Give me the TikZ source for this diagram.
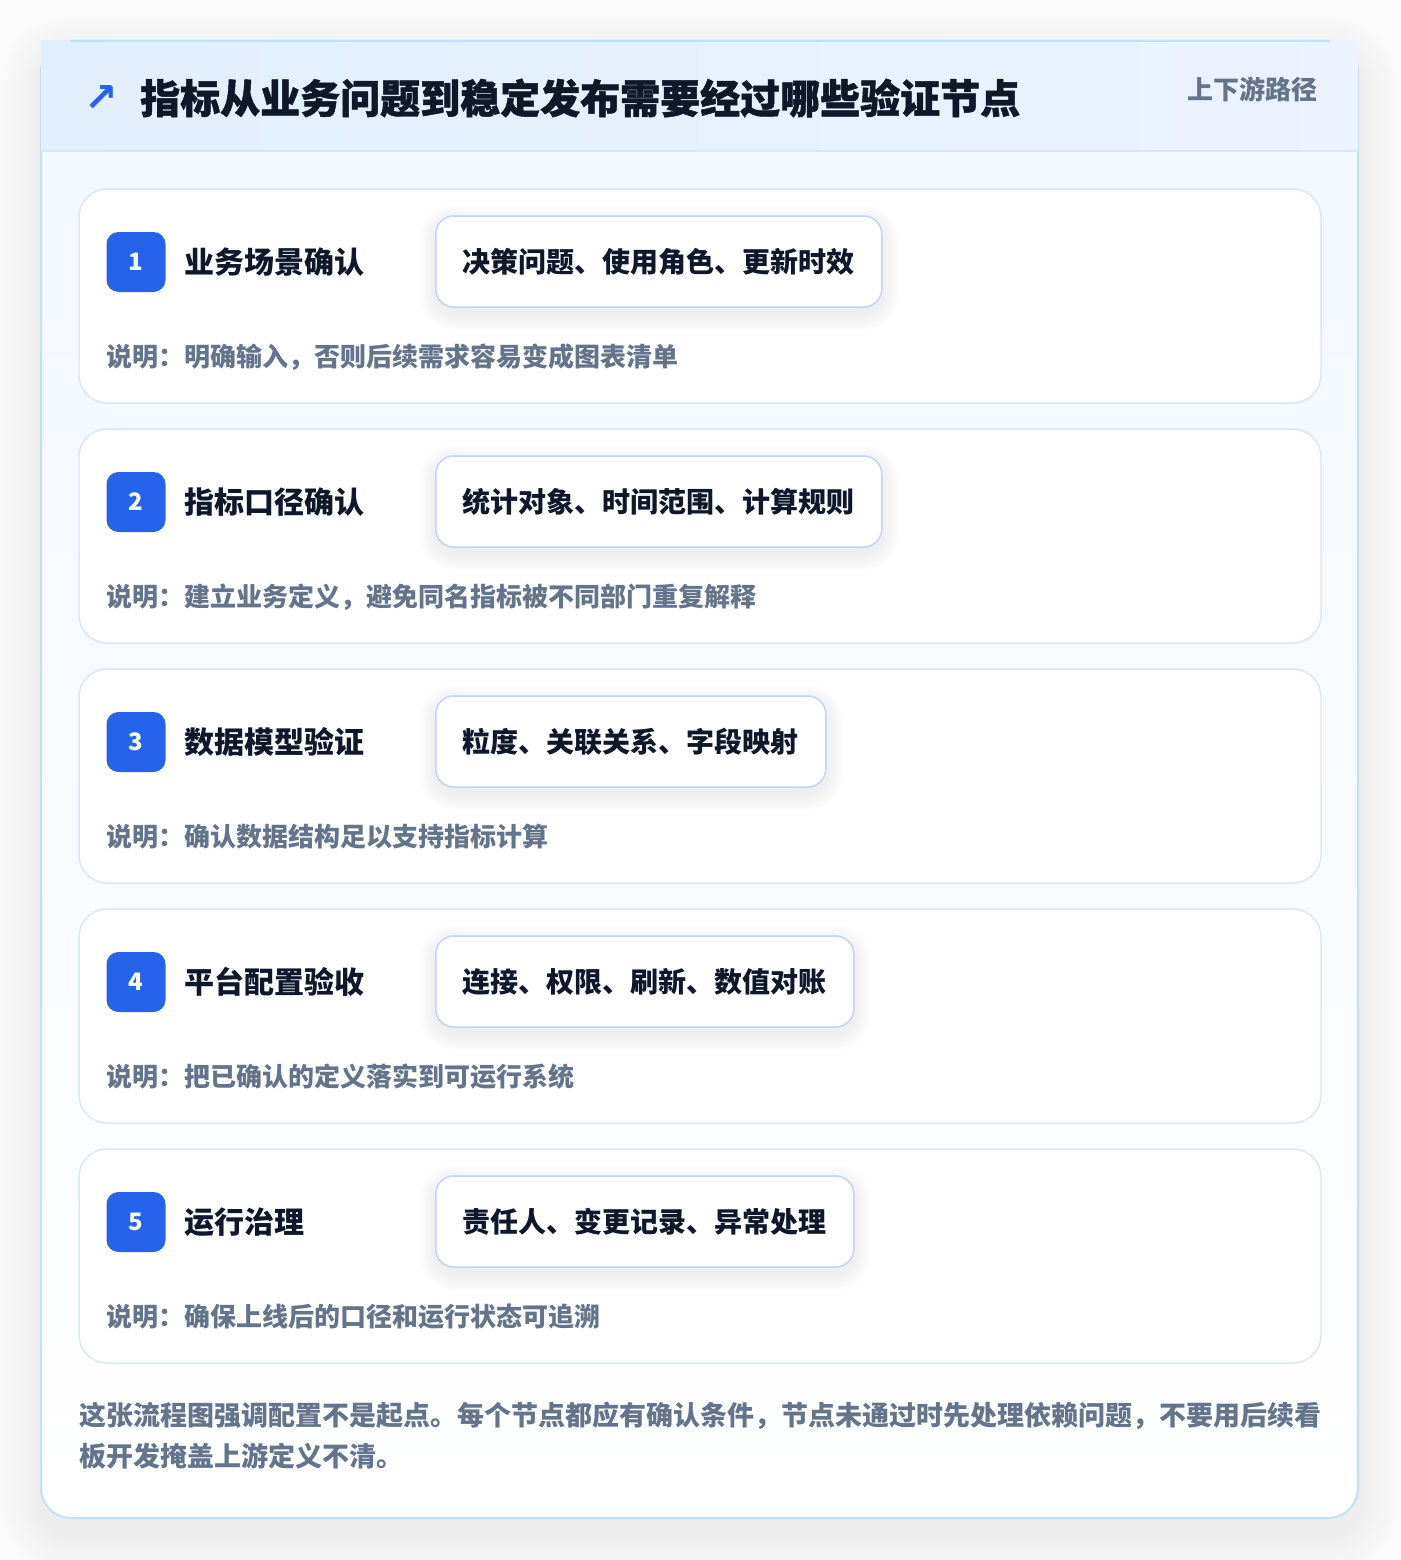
\documentclass[tikz,border=0pt]{standalone}
\usepackage{fontspec}
\setmainfont{Noto Sans CJK SC}
\newfontfamily\heavyfont{Noto Sans CJK SC}[BoldFeatures={FakeBold=1.2}]
\newfontfamily\symfont{DejaVu Sans}
\usetikzlibrary{positioning}

\definecolor{pagebg}{HTML}{FBFBFC}
\definecolor{frameline}{HTML}{BEE3F8}
\definecolor{headleft}{HTML}{E1EFFD}
\definecolor{headright}{HTML}{ECF2FE}
\definecolor{headline}{HTML}{D6E7FA}
\definecolor{bodytop}{HTML}{F2F8FF}
\definecolor{cardline}{HTML}{DCE8F8}
\definecolor{tagline}{HTML}{BFD5F5}
\definecolor{accent}{HTML}{2563EB}
\definecolor{ink}{HTML}{0F172A}
\definecolor{muted}{HTML}{64748B}

\tikzset{
  stepcard/.style={draw=cardline, line width=1.5pt, fill=white, rounded corners=28pt,
    minimum width=1242pt, minimum height=214pt, inner sep=0pt},
  badge/.style={fill=accent, rounded corners=12pt, minimum width=59pt, minimum height=60pt,
    inner sep=0pt, text=white, font=\bfseries\fontsize{24}{24}\selectfont},
  steptitle/.style={anchor=west, inner sep=0pt, text=ink, font=\bfseries\fontsize{30}{30}\selectfont},
  tagbox/.style={draw=tagline, line width=1.5pt, fill=white, rounded corners=18pt,
    minimum height=91pt, inner xsep=27pt, inner ysep=0pt, anchor=west, text=ink,
    font=\bfseries\fontsize{28}{28}\selectfont},
  note/.style={anchor=west, inner sep=0pt, text=muted, font=\bfseries\fontsize{26}{26}\selectfont},
  softshade/.style={fill=black, opacity=#1},
}

\begin{document}
\begin{tikzpicture}[x=1pt, y=-1pt]
  % --- PAGE ---
  \fill[pagebg] (0,0) rectangle (1400,1560);
  \useasboundingbox (0,0) rectangle (1400,1560);

  % --- OUTER FRAME ---
  % soft shadow, stacked layers
  \foreach \k in {3,6,...,42}
    \fill[softshade=0.0035, rounded corners=30pt+\k pt]
      (41-\k,41-\k+16) rectangle (1358+\k,1518+\k+16);
  \shade[top color=bodytop, bottom color=white, rounded corners=30pt]
    (41,41) rectangle (1358,1518);
  \draw[frameline, line width=2pt, rounded corners=30pt] (41,41) rectangle (1358,1518);

  % header band, square corners over the frame
  \shade[left color=headleft, right color=headright] (41,41) rectangle (1358,151);
  \draw[headline, line width=1.5pt] (41,151) -- (1358,151);
  \draw[frameline, line width=2pt] (70,41) -- (1330,41);

  % --- HEADER TEXT ---
  \node[inner sep=0pt, text=accent, font=\symfont\bfseries\fontsize{40}{40}\selectfont]
    (arrow) at (101,99) {↗};
  \node[anchor=west, inner sep=0pt, text=ink, font=\heavyfont\bfseries\fontsize{40}{40}\selectfont]
    (title) at (140,98) {指标从业务问题到稳定发布需要经过哪些验证节点};
  \node[anchor=east, inner sep=0pt, text=muted, font=\bfseries\fontsize{26}{26}\selectfont]
    (route) at (1318,89) {上下游路径};

  % --- STEP CARDS ---
  \foreach \i/\name/\tag/\desc in {
      1/业务场景确认/决策问题、使用角色、更新时效/说明：明确输入，否则后续需求容易变成图表清单,
      2/指标口径确认/统计对象、时间范围、计算规则/说明：建立业务定义，避免同名指标被不同部门重复解释,
      3/数据模型验证/粒度、关联关系、字段映射/说明：确认数据结构足以支持指标计算,
      4/平台配置验收/连接、权限、刷新、数值对账/说明：把已确认的定义落实到可运行系统,
      5/运行治理/责任人、变更记录、异常处理/说明：确保上线后的口径和运行状态可追溯} {
    \pgfmathsetmacro\cy{296+240*(\i-1)}
    \node[stepcard] (card\i) at (700,\cy) {};
    \node[badge] (badge\i) at (136,\cy-34) {\i};
    \node[steptitle] (name\i) at (184,\cy-34) {\name};
    % tag shadow, then tag
    \node[tagbox, draw=none, fill=none, text opacity=0] (ghost\i) at (435,\cy-34.5) {\tag};
    \foreach \k in {2,4,...,16}
      \fill[softshade=0.006, rounded corners=18pt+\k pt]
        ([xshift=-\k pt, yshift=-\k pt-6pt]ghost\i.south west) rectangle
        ([xshift=\k pt, yshift=\k pt-6pt]ghost\i.north east);
    \node[tagbox] (tag\i) at (435,\cy-34.5) {\tag};
    \node[note] (desc\i) at (106,\cy+61) {\desc};
  }

  % --- SUMMARY ---
  \node[anchor=west, inner sep=0pt, align=left, text=muted,
    font=\bfseries\fontsize{27}{41}\selectfont] (summary) at (79,1435.5)
    {这张流程图强调配置不是起点。每个节点都应有确认条件，节点未通过时先处理依赖问题，不要用后续看\\
     板开发掩盖上游定义不清。};
\end{tikzpicture}
\end{document}
